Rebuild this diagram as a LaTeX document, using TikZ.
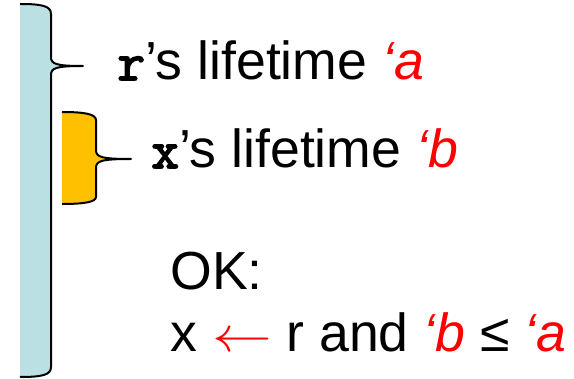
\documentclass[tikz,border=0pt]{standalone}
\usepackage{fontspec}
\setmainfont{Liberation Sans}
\newfontfamily\codefont[FakeBold=3]{Latin Modern Mono}
\usepackage{xcolor}
\usepackage{tikz}
\usetikzlibrary{positioning}

\definecolor{lifeblue}{HTML}{BBE0E3}
\definecolor{lifeyellow}{HTML}{FFC000}
\newcommand{\lt}[1]{\textcolor{red}{\itshape #1}}
\newcommand{\var}[1]{{\codefont #1}}

\begin{document}
\begin{tikzpicture}[
  x=0.5pt,y=-0.5pt,
  txt/.style={anchor=base west,inner sep=0pt,font=\fontsize{26.8}{30}\selectfont},
  brace/.style={line width=1pt,line join=round}
]
\useasboundingbox (0,0) rectangle (574,379);

% outer brace, r
\fill[lifeblue] (20,4) .. controls (42,4) and (51,6) .. (51,14) -- (51,57)
  .. controls (51,64) and (56,66) .. (83,66) .. controls (56,66) and (51,68) .. (51,75)
  -- (51,367) .. controls (51,375) and (42,377) .. (20,377) -- cycle;
\draw[brace] (20,4) .. controls (42,4) and (51,6) .. (51,14) -- (51,57)
  .. controls (51,64) and (56,66) .. (83,66) .. controls (56,66) and (51,68) .. (51,75)
  -- (51,367) .. controls (51,375) and (42,377) .. (20,377);

% inner brace, x
\fill[lifeyellow] (62,112) .. controls (84,112) and (96,114) .. (96,120) -- (96,150)
  .. controls (96,157) and (101,159) .. (131,159) .. controls (101,159) and (96,161) .. (96,168)
  -- (96,197) .. controls (96,202) and (84,204) .. (62,204) -- cycle;
\draw[brace] (62,112) .. controls (84,112) and (96,114) .. (96,120) -- (96,150)
  .. controls (96,157) and (101,159) .. (131,159) .. controls (101,159) and (96,161) .. (96,168)
  -- (96,197) .. controls (96,202) and (84,204) .. (62,204);

\node[txt] (rlife) at (117,80) {\var{r}’s lifetime \lt{‘a}};
\node[txt] (xlife) at (151,168) {\var{x}’s lifetime \lt{‘b}};
\node[txt] (ok) at (170,290) {OK:};
\node[txt] (rule) at (170,352) {x \textcolor{red}{\scalebox{1.2}[1]{$\leftarrow$}} r and \lt{‘b} ≤ \lt{‘a}};

\end{tikzpicture}
\end{document}
